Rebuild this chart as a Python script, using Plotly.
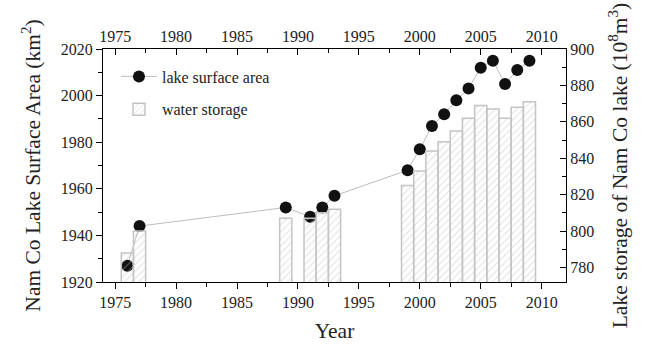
import plotly.graph_objects as go

# Survey years
years = [1976, 1977, 1989, 1991, 1992, 1993, 1999, 2000, 2001, 2002,
         2003, 2004, 2005, 2006, 2007, 2008, 2009]
# Lake surface area (km^2)
area = [1927, 1944, 1952, 1948, 1952, 1957, 1968, 1977, 1987, 1992,
        1998, 2003, 2012, 2015, 2005, 2011, 2015]
# Lake water storage (10^8 m^3)
storage = [788, 800, 807, 807, 810, 812, 825, 833, 844, 849,
           855, 862, 869, 867, 862, 868, 871]

x_ticks = [1975, 1980, 1985, 1990, 1995, 2000, 2005, 2010]
area_ticks = [1920, 1940, 1960, 1980, 2000, 2020]
storage_ticks = [780, 800, 820, 840, 860, 880, 900]

FONT = "Liberation Serif"
GRAY = "#c4c4c4"
TITLE_SIZE = 21.5

fig = go.Figure()

fig.add_trace(go.Scatter(
    x=years, y=area, mode="lines+markers", name="lake surface area",
    legendgroup="area",
    line=dict(color="#bdbdbd", width=1),
    marker=dict(color="#111111", size=12, line=dict(width=0)),
    xaxis="x", yaxis="y",
))

# invisible copy so the top year axis is drawn
fig.add_trace(go.Scatter(
    x=years, y=area, mode="markers", showlegend=False, hoverinfo="skip",
    marker=dict(opacity=0), xaxis="x2", yaxis="y",
))

fig.add_trace(go.Bar(
    x=years, y=storage, name="water storage", width=1.0,
    legendgroup="storage",
    marker=dict(
        color="rgba(255,255,255,0)",
        line=dict(color=GRAY, width=1.5),
        pattern=dict(shape="/", fgcolor="#bfbfbf", bgcolor="rgba(255,255,255,0)",
                     size=5, solidity=0.2, fillmode="overlay"),
    ),
    xaxis="x", yaxis="y2",
))

axis_common = dict(showline=True, linecolor="black", linewidth=1.2, showgrid=False,
                   zeroline=False, tickcolor="black",
                   tickfont=dict(family=FONT, size=16, color="#222"))

fig.update_layout(
    width=646, height=350,
    margin=dict(l=103, r=80, t=49, b=62),
    paper_bgcolor="white", plot_bgcolor="white",
    font=dict(family=FONT, size=16, color="#222"),
    barmode="overlay",
    xaxis=dict(range=[1974, 2012], tickvals=x_ticks, ticks="outside", ticklen=6,
               minor=dict(ticks="outside", ticklen=4, dtick=2.5, tick0=1975, tickcolor="black"),
               title=dict(text="Year", font=dict(family=FONT, size=TITLE_SIZE), standoff=12),
               **axis_common),
    xaxis2=dict(range=[1974, 2012], tickvals=x_ticks, ticks="inside", ticklen=6,
                minor=dict(ticks="inside", ticklen=4, dtick=2.5, tick0=1975, tickcolor="black"),
                overlaying="x", side="top", anchor="y", **axis_common),
    yaxis=dict(range=[1920, 2020], tickvals=area_ticks, ticks="outside", ticklen=6,
               minor=dict(ticks="outside", ticklen=4, dtick=10, tick0=1920, tickcolor="black"),
               title=dict(text="Nam Co Lake Surface Area (km<sup>2</sup>)",
                          font=dict(family=FONT, size=TITLE_SIZE), standoff=14),
               **axis_common),
    yaxis2=dict(range=[772, 900], tickvals=storage_ticks, ticks="inside", ticklen=6,
                minor=dict(ticks="inside", ticklen=4, dtick=10, tick0=780, tickcolor="black"),
                overlaying="y", side="right", anchor="x",
                title=dict(text="Lake storage of Nam Co lake (10<sup>8</sup>m<sup>3</sup>)",
                           font=dict(family=FONT, size=TITLE_SIZE), standoff=18),
                **axis_common),
    legend=dict(x=0.028, y=0.955, xanchor="left", yanchor="top",
                bgcolor="rgba(0,0,0,0)", font=dict(family=FONT, size=16, color="#222"),
                itemwidth=36, tracegroupgap=9),
    showlegend=True,
)

fig.write_html("out.html")
